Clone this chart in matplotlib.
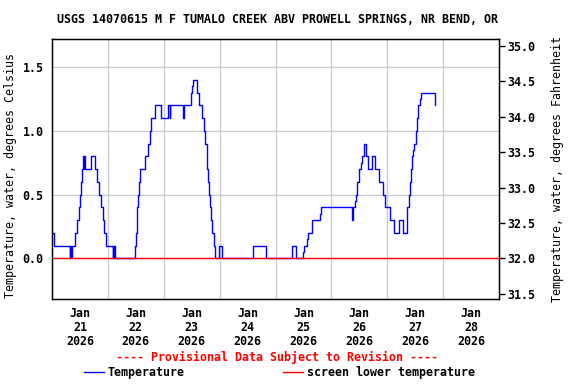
import pandas as pd
import numpy as np
from matplotlib import pyplot as plt
import matplotlib.dates as mdates

# hours after Jan 21 2026 00:00 and water temperature (deg C), step series
hours = [0.0, 1.0, 7.6, 7.9, 8.1, 8.4, 9.9, 10.9, 11.4, 11.9, 12.4, 12.9, 13.3, 13.6, 13.8, 14.1,
         16.7, 18.6, 19.3, 20.3, 21.0, 21.7, 22.4, 23.1, 26.0, 26.3, 26.5, 26.7, 27.0,
         35.6, 35.9, 36.3, 36.6, 36.9, 37.3, 37.9, 40.0, 41.4, 41.9, 42.4, 44.3, 46.7,
         49.9, 50.5, 50.8, 56.4, 56.7, 59.6, 60.3, 60.6, 62.1, 62.9, 64.3, 65.3, 65.9,
         66.4, 66.7, 67.1, 67.6, 67.9, 68.3, 68.7, 69.6, 70.0, 71.7, 72.9,
         86.3, 91.9, 103.2, 104.9, 107.9, 108.4, 109.3, 109.9, 111.7, 115.0, 115.3,
         128.9, 129.2, 130.0, 130.4, 131.0, 131.7, 132.7, 133.1, 134.1, 134.7, 135.6,
         137.2, 138.6, 140.3, 142.0, 143.0, 145.3, 146.7, 148.9, 150.6, 152.4, 152.6,
         153.1, 153.7, 154.1, 154.5, 155.0, 155.6, 156.1, 156.6, 157.0, 157.9, 158.6,
         159.0, 164.4]
temps = [0.2, 0.1, 0.0, 0.1, 0.0, 0.1, 0.2, 0.3, 0.4, 0.5, 0.6, 0.7, 0.8, 0.7, 0.8, 0.7,
         0.8, 0.7, 0.6, 0.5, 0.4, 0.3, 0.2, 0.1, 0.0, 0.1, 0.0, 0.1, 0.0,
         0.1, 0.2, 0.3, 0.4, 0.5, 0.6, 0.7, 0.8, 0.9, 1.0, 1.1, 1.2, 1.1,
         1.2, 1.1, 1.2, 1.1, 1.2, 1.3, 1.35, 1.4, 1.3, 1.2, 1.1, 1.0, 0.9,
         0.8, 0.7, 0.6, 0.5, 0.4, 0.3, 0.2, 0.1, 0.0, 0.1, 0.0,
         0.1, 0.0, 0.1, 0.0, 0.05, 0.1, 0.15, 0.2, 0.3, 0.35, 0.4,
         0.3, 0.4, 0.45, 0.5, 0.6, 0.7, 0.75, 0.8, 0.9, 0.8, 0.7,
         0.8, 0.7, 0.6, 0.5, 0.4, 0.3, 0.2, 0.3, 0.2, 0.3, 0.4,
         0.5, 0.6, 0.7, 0.8, 0.85, 0.9, 1.0, 1.1, 1.2, 1.25, 1.3,
         1.3, 1.2]
screen_lower = 0.0
start = pd.Timestamp('2026-01-21 00:00')
end = pd.Timestamp('2026-01-29 00:00')
day_labels = ['Jan\n21\n2026', 'Jan\n22\n2026', 'Jan\n23\n2026', 'Jan\n24\n2026',
              'Jan\n25\n2026', 'Jan\n26\n2026', 'Jan\n27\n2026', 'Jan\n28\n2026']
c_ticks = [0.0, 0.5, 1.0, 1.5]
f_ticks = [31.5, 32.0, 32.5, 33.0, 33.5, 34.0, 34.5, 35.0]

font = {'family': 'DejaVu Sans Mono', 'weight': 'bold', 'size': 8.4}
plt.rcParams['font.family'] = 'DejaVu Sans Mono'
plt.rcParams['font.weight'] = 'bold'
plt.rcParams['font.size'] = 8.4

times = start + pd.to_timedelta(hours, unit='h')

fig = plt.figure(figsize=(5.76, 3.84), dpi=100)
ax = fig.add_axes([0.0903, 0.2214, 0.7763, 0.6763])

ylo, yhi = -0.32, 1.72
ax.set_xlim(start, end)
ax.set_ylim(ylo, yhi)

# grid
midnights = pd.date_range(start, end, freq='D')
for d in midnights[1:-1]:
    ax.axvline(d, color='#cccccc', lw=1.0, zorder=0)
for c in c_ticks:
    ax.axhline(c, color='#cccccc', lw=1.0, zorder=0)

ln_t, = ax.plot(times, temps, drawstyle='steps-post', color='#0000ff', lw=1.0,
                label='Temperature', zorder=2)
ln_s = ax.axhline(screen_lower, color='#ff0000', lw=1.0, zorder=3,
                  label='screen lower temperature')

ax.set_yticks(c_ticks)
ax.set_yticklabels(['%.1f' % c for c in c_ticks])
ax.tick_params(axis='y', length=0, pad=6)

noons = [d + pd.Timedelta(hours=12) for d in midnights[:-1]]
ax.set_xticks([mdates.date2num(n) for n in noons])
ax.set_xticklabels(day_labels, linespacing=1.1)
ax.tick_params(axis='x', length=0, pad=6)

ax.set_ylabel('Temperature, water, degrees Celsius')
ax.yaxis.set_label_coords(-0.078, 0.477)
for sp in ax.spines.values():
    sp.set_linewidth(1.0)

ax2 = ax.twinx()
ax2.set_ylim(32 + 1.8 * ylo, 32 + 1.8 * yhi)
ax2.set_yticks(f_ticks)
ax2.set_yticklabels(['%.1f' % f for f in f_ticks])
ax2.tick_params(axis='y', length=4, width=1, direction='out', pad=2)
ax2.set_ylabel('Temperature, water, degrees Fahrenheit')
ax2.yaxis.set_label_coords(1.116, 0.5)

fig.text(0.481, 0.95, 'USGS 14070615 M F TUMALO CREEK ABV PROWELL SPRINGS, NR BEND, OR',
         ha='center', va='center', **font)
fig.text(0.481, 0.068, '---- Provisional Data Subject to Revision ----',
         ha='center', va='center', color='#ff0000', **font)
fig.legend(handles=[ln_t, ln_s], loc='center', bbox_to_anchor=(0.485, 0.029), ncol=2,
           frameon=False, handlelength=1.7, handletextpad=0.35, columnspacing=8.4,
           borderpad=0, prop={'family': 'DejaVu Sans Mono', 'weight': 'bold', 'size': 8.4})

fig.savefig('out.png', dpi=100)
